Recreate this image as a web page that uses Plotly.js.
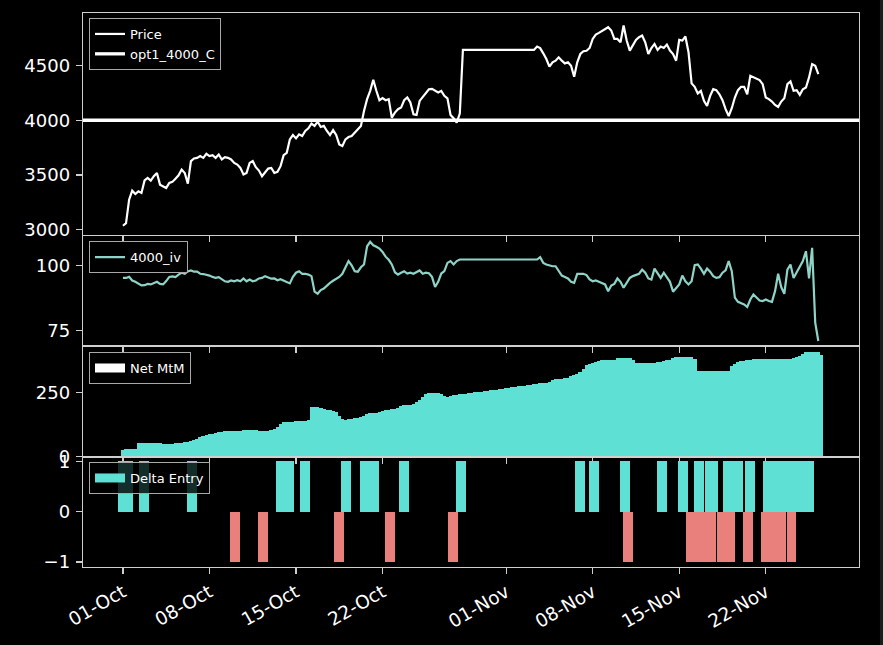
<!DOCTYPE html>
<html><head><meta charset="utf-8">
<script src="https://cdn.plot.ly/plotly-3.0.1.min.js"></script>
<style>html,body{margin:0;padding:0;background:#000;}#chart{width:883px;height:645px;}</style>
</head><body><div id="chart"></div>
<script>
// ---- data ----
const START = '2021-10-01T00:00:00Z';
const STEP_HOURS = 6;
const price = [
3035,3059,3273,3356,3325,3350,3335,3450,3472,3448,
3488,3518,3411,3396,3381,3427,3436,3466,3497,3549,
3518,3420,3626,3650,3656,3672,3656,3693,3672,3681,
3656,3687,3641,3662,3656,3641,3610,3595,3564,3503,
3518,3610,3626,3571,3540,3488,3518,3558,3564,3518,
3528,3580,3681,3702,3825,3865,3834,3871,3856,3902,
3926,3969,3948,3987,3938,3948,3902,3865,3911,3865,
3779,3764,3825,3846,3856,3886,3917,3947,4085,4193,
4269,4370,4270,4183,4202,4183,4193,4024,4070,4101,
4116,4183,4208,4162,4055,4049,4177,4214,4254,4284,
4287,4269,4254,4269,4223,4200,4049,4018,3978,4061,
4643,4643,4643,4643,4643,4643,4643,4643,4643,4643,
4643,4643,4643,4643,4643,4643,4643,4643,4643,4643,
4643,4643,4643,4643,
4674,4660,4612,4560,4490,4530,
4545,4576,4545,4520,4530,4499,4398,4530,4606,4631,
4635,4661,4744,4784,4799,4815,4836,4851,4821,4744,
4744,4714,4867,4729,4637,4683,4735,4759,4775,4713,
4606,4661,4698,4643,4674,4661,4692,4637,4606,4545,
4735,4729,4766,4622,4337,4306,4245,4269,4177,4131,
4223,4284,4275,4238,4183,4101,4039,4110,4208,4275,
4306,4306,4238,4407,4392,4376,4367,4330,4208,4193,
4171,4140,4122,4171,4202,4330,4355,4269,4275,4232,
4284,4300,4392,4514,4499,4422
];
const iv = [
95.2,95.2,95.6,94.2,93.7,93.1,92.3,92.4,92.9,92.7,
93.2,93.7,92.9,92.7,94.0,95.6,95.8,95.5,96.5,97.2,
96.8,97.7,98.1,97.6,97.6,96.8,96.7,96.5,96.1,95.6,
95.2,95.5,94.6,93.9,93.7,94.2,93.9,94.3,93.9,95.0,
93.9,94.6,93.9,94.2,95.0,95.2,95.9,95.5,94.9,95.0,
94.3,94.7,94.2,93.9,93.1,95.6,97.2,97.8,96.8,96.8,
96.5,95.9,89.9,89.1,90.5,91.1,92.3,93.3,94.1,94.9,
95.6,96.8,99.1,101.7,100.1,97.8,97.6,99.3,100.4,107.4,
109.1,107.8,107.2,106.5,105.2,103.4,102.2,100.4,97.4,96.5,
97.2,97.8,96.9,97.2,96.8,97.6,98.1,96.8,97.2,97.0,
95.6,91.7,93.7,96.9,97.8,101.0,101.7,100.4,101.7,102.3,
102.3,102.3,102.3,102.3,102.3,102.3,102.3,102.3,102.3,102.3,
102.3,102.3,102.3,102.3,102.3,102.3,102.3,102.3,102.3,102.3,
102.3,102.3,102.3,102.3,
102.3,103.2,101.0,100.4,99.9,99.7,
99.7,97.8,96.1,95.6,95.0,93.7,93.3,96.8,96.8,96.8,
96.3,94.6,93.9,94.2,93.7,93.3,92.7,90.1,92.3,92.9,
95.0,93.7,91.4,93.3,95.2,95.9,96.5,96.8,98.4,97.2,
95.0,94.6,98.8,97.2,95.2,97.2,95.2,93.7,89.9,91.4,
92.7,96.1,93.9,92.7,93.9,100.1,100.4,98.8,96.8,98.8,
97.6,95.9,95.2,95.5,97.2,98.1,101.7,97.8,87.6,86.0,
85.6,85.0,84.0,86.9,88.8,87.8,86.5,86.3,86.9,86.3,
86.0,90.1,96.8,91.7,89.1,98.4,100.4,95.2,97.2,99.3,
101.7,105.5,95.0,106.8,78.0,70.9
];
const netMtm = [
0,24,27,28,30,30,52,53,53,53,
52,51,50,50,50,50,50,50,51,53,
54,55,56,58,64,68,74,78,83,86,
88,91,94,97,98,98,98,99,100,101,
104,104,103,100,98,97,97,98,100,103,
108,116,126,134,135,135,136,138,140,140,
140,142,193,190,186,184,182,178,174,160,
145,142,142,143,145,148,150,152,156,160,
168,172,172,172,174,178,182,184,186,188,
192,198,201,202,203,205,212,222,232,245,
248,248,246,238,234,234,234,236,241,242,
244,245,246,248,250,252,253,255,257,258,
260,262,263,265,267,268,270,272,273,275,
277,278,280,282,283,285,287,288,290,292,
302,303,304,306,308,310,316,320,326,332,
345,360,365,368,372,376,378,378,378,376,
371,388,388,386,378,366,366,366,366,366,
364,362,366,368,370,372,375,378,381,386,
392,392,392,390,385,336,335,335,335,336,
336,336,337,337,336,334,336,336,355,365,
372,374,377,379,380,382,384,382,380,380,
382,383,384,384,385,385,385,385,388,390,
397,405,410,410,410,401
];
const strike = 4000;
const deltaDates = [
'2021-10-01 00:00','2021-10-01 05:00','2021-10-01 10:00','2021-10-02 17:00','2021-10-06 14:00',
'2021-10-10 02:00','2021-10-12 08:00','2021-10-13 19:00','2021-10-14 02:00','2021-10-14 10:00',
'2021-10-15 17:00','2021-10-18 12:00','2021-10-19 01:00','2021-10-20 14:00','2021-10-20 23:00',
'2021-10-21 07:00','2021-10-22 14:00','2021-10-23 17:00','2021-10-27 17:00','2021-10-28 08:00',
'2021-11-06 23:00','2021-11-08 02:00','2021-11-10 14:00','2021-11-10 20:00','2021-11-13 14:00',
'2021-11-15 08:00','2021-11-15 22:00','2021-11-16 08:00','2021-11-16 14:00','2021-11-16 18:00',
'2021-11-17 04:00','2021-11-17 11:00','2021-11-17 13:00','2021-11-17 17:00','2021-11-18 11:00',
'2021-11-18 19:00','2021-11-18 22:00','2021-11-19 02:00','2021-11-19 08:00','2021-11-19 19:00',
'2021-11-20 14:00','2021-11-20 17:00','2021-11-22 00:00','2021-11-22 05:00','2021-11-22 10:00',
'2021-11-22 14:00','2021-11-22 19:00','2021-11-23 00:00','2021-11-23 05:00','2021-11-23 10:00',
'2021-11-23 19:00','2021-11-24 02:00','2021-11-24 05:00','2021-11-24 14:00','2021-11-25 00:00',
'2021-11-25 12:00'
];
const deltaValues = [
1,1,1,1,1,
-1,-1,1,1,1,
1,-1,1,1,1,
1,-1,1,-1,1,
1,1,1,-1,1,
1,-1,-1,1,-1,
-1,1,-1,1,-1,
-1,1,-1,1,1,
-1,1,-1,1,-1,
1,-1,1,-1,1,
1,-1,1,1,1,
1
];
const tickDates = ['2021-10-01','2021-10-08','2021-10-15','2021-10-22','2021-11-01','2021-11-08','2021-11-15','2021-11-22'];
const tickLabels = ['01-Oct','08-Oct','15-Oct','22-Oct','01-Nov','08-Nov','15-Nov','22-Nov'];
const priceTicks = [3000,3500,4000,4500];
const ivTicks = [75,100];
const mtmTicks = [0,250];
const deltaTicks = [-1,0,1];
const deltaTickText = ['\u22121','0','1'];
const X_RANGE = ['2021-09-27 18:28','2021-11-29 13:00'];

// ---- build ----
const BAR_W = 0.8*86400000;
function stamp(i){const d=new Date(Date.parse(START)+i*STEP_HOURS*3600000);return d.toISOString().slice(0,16).replace('T',' ');}
const times = price.map((_,i)=>stamp(i));
const longX=[],longY=[],shortX=[],shortY=[];
deltaDates.forEach((d,k)=>{ if(deltaValues[k]>0){longX.push(d);longY.push(deltaValues[k]);} else {shortX.push(d);shortY.push(deltaValues[k]);} });

const TEAL='#5fe0d4', SALMON='#e9807b', AXC='#cfcfcf';
const FONT='DejaVu Sans, sans-serif';

const traces=[
 {type:'scatter',mode:'lines',x:times,y:price,name:'Price',line:{color:'#ffffff',width:2.2},xaxis:'x',yaxis:'y',legend:'legend'},
 {type:'scatter',mode:'lines',x:X_RANGE,y:[strike,strike],name:'opt1_4000_C',line:{color:'#ffffff',width:3.3},xaxis:'x',yaxis:'y',legend:'legend'},
 {type:'scatter',mode:'lines',x:times,y:iv,name:'4000_iv',line:{color:'#8dd3c7',width:2.2},xaxis:'x2',yaxis:'y2',legend:'legend2'},
 {type:'bar',x:times,y:netMtm,width:BAR_W,marker:{color:TEAL,line:{width:0}},showlegend:false,xaxis:'x3',yaxis:'y3'},
 {type:'scatter',mode:'lines',x:[null],y:[null],name:'Net MtM',line:{color:'#ffffff',width:9},xaxis:'x3',yaxis:'y3',legend:'legend3'},
 {type:'bar',x:longX,y:longY,width:BAR_W,marker:{color:TEAL,line:{width:0}},showlegend:false,xaxis:'x4',yaxis:'y4'},
 {type:'bar',x:shortX,y:shortY,width:BAR_W,marker:{color:SALMON,line:{width:0}},showlegend:false,xaxis:'x4',yaxis:'y4'},
 {type:'scatter',mode:'lines',x:[null],y:[null],name:'Delta Entry',line:{color:TEAL,width:9},xaxis:'x4',yaxis:'y4',legend:'legend4'}
];

function xax(anchor,labels,mirror){return {type:'date',range:X_RANGE,anchor:anchor,domain:[0,1],tickmode:'array',tickvals:tickDates,ticktext:tickLabels,
 ticks:'outside',ticklen:6,tickwidth:1.3,tickcolor:AXC,showticklabels:labels,tickangle:-30,ticklabelstandoff:0,
 showline:true,mirror:mirror,linecolor:AXC,linewidth:1.3,showgrid:false,zeroline:false,
 tickfont:{family:FONT,size:18.5,color:'#ffffff'}};}
function yax(anchor,dom,range,tv,tt){const a={anchor:anchor,domain:dom,range:range,tickmode:'array',tickvals:tv,
 ticks:'outside',ticklen:6,tickwidth:1.3,tickcolor:AXC,ticklabelstandoff:2,
 showline:true,mirror:true,linecolor:AXC,linewidth:1.3,showgrid:false,zeroline:false,
 tickfont:{family:FONT,size:18,color:'#ffffff'}}; if(tt)a.ticktext=tt; return a;}
function leg(y){return {x:0.0077,y:y,xanchor:'left',yanchor:'top',bgcolor:'rgba(0,0,0,0.8)',bordercolor:'#a8a8a8',borderwidth:1,
 font:{family:FONT,size:13,color:'#ffffff'},itemwidth:30,tracegroupgap:0};}

const layout={
 width:883,height:645,paper_bgcolor:'#000000',plot_bgcolor:'#000000',
 margin:{l:83,r:24,t:13,b:78},barmode:'overlay',bargap:0,showlegend:true,
 font:{family:FONT,color:'#ffffff'},
 xaxis:xax('y',false,true),xaxis2:xax('y2',false,false),xaxis3:xax('y3',false,false),xaxis4:xax('y4',true,false),
 yaxis:yax('x',[0.6,1],[2954,4981],priceTicks),
 yaxis2:yax('x2',[0.4,0.6],[69.2,111.9],ivTicks),
 yaxis3:yax('x3',[0.2,0.4],[0,437],mtmTicks),
 yaxis4:yax('x4',[0,0.2],[-1.1,1.1],deltaTicks,deltaTickText),
 legend:leg(0.991),legend2:leg(0.588),legend3:leg(0.388),legend4:leg(0.1895),
 shapes:[{type:'rect',xref:'paper',yref:'paper',x0:1.027,x1:1.04,y0:-0.2,y1:1.1,fillcolor:'#1c1c1c',line:{width:0},layer:'below'}]
};
Plotly.newPlot('chart',traces,layout,{staticPlot:true,displayModeBar:false});
</script></body></html>
